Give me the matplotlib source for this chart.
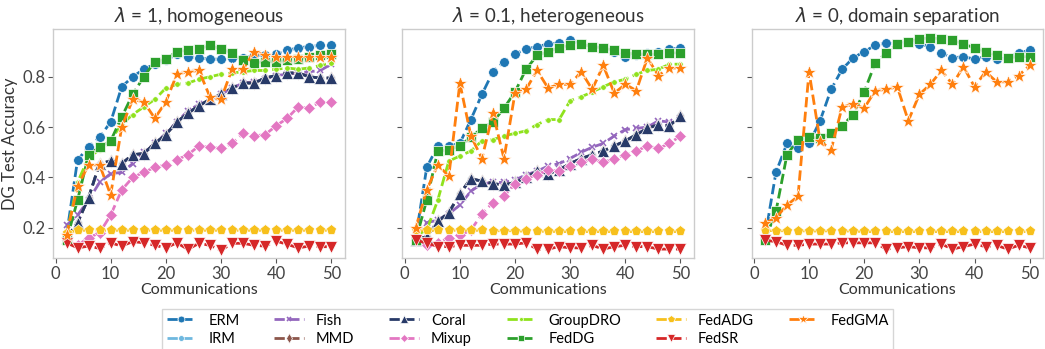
import matplotlib

matplotlib.use("Agg")
import matplotlib.pyplot as plt

plt.rcParams["font.family"] = ["Lato", "DejaVu Sans"]

rounds = list(range(2, 51, 2))

# --- lambda = 1, homogeneous ---
erm_homo = [0.17, 0.47, 0.52, 0.56, 0.62, 0.76, 0.80, 0.83, 0.85, 0.865, 0.89, 0.88, 0.875,
            0.87, 0.87, 0.875, 0.875, 0.885, 0.885, 0.89, 0.905, 0.915, 0.92, 0.925, 0.925]
fish_homo = [0.21, 0.25, 0.31, 0.38, 0.415, 0.42, 0.455, 0.50, 0.535, 0.575, 0.62, 0.665, 0.69,
             0.71, 0.73, 0.755, 0.775, 0.78, 0.79, 0.805, 0.81, 0.815, 0.82, 0.825, 0.85]
coral_homo = [0.16, 0.22, 0.32, 0.455, 0.465, 0.455, 0.49, 0.495, 0.535, 0.57, 0.62, 0.655, 0.685,
              0.71, 0.73, 0.755, 0.775, 0.775, 0.795, 0.805, 0.815, 0.815, 0.80, 0.795, 0.795]
irm_homo = coral_homo  # hidden under Coral
mmd_homo = coral_homo  # hidden under Coral
mixup_homo = [0.15, 0.13, 0.16, 0.18, 0.25, 0.35, 0.40, 0.42, 0.44, 0.45, 0.47, 0.49, 0.525,
              0.52, 0.515, 0.535, 0.575, 0.565, 0.57, 0.605, 0.635, 0.68, 0.675, 0.70, 0.70]
groupdro_homo = [0.17, 0.38, 0.48, 0.51, 0.55, 0.61, 0.65, 0.68, 0.71, 0.755, 0.77, 0.775, 0.79,
                 0.80, 0.81, 0.815, 0.82, 0.825, 0.825, 0.83, 0.835, 0.83, 0.835, 0.845, 0.855]
feddg_homo = [0.15, 0.31, 0.49, 0.52, 0.545, 0.64, 0.73, 0.80, 0.86, 0.87, 0.90, 0.905, 0.91,
              0.925, 0.91, 0.895, 0.865, 0.855, 0.86, 0.86, 0.865, 0.87, 0.88, 0.885, 0.89]
fedadg_homo = [0.18, 0.19, 0.19, 0.19, 0.19, 0.19, 0.19, 0.19, 0.19, 0.19, 0.19, 0.19, 0.19,
               0.19, 0.19, 0.19, 0.19, 0.19, 0.19, 0.19, 0.19, 0.19, 0.19, 0.19, 0.19]
fedsr_homo = [0.14, 0.12, 0.127, 0.118, 0.14, 0.127, 0.145, 0.14, 0.13, 0.12, 0.14, 0.114, 0.138,
              0.13, 0.11, 0.138, 0.138, 0.13, 0.127, 0.147, 0.134, 0.12, 0.127, 0.125, 0.124]
fedgma_homo = [0.17, 0.365, 0.45, 0.45, 0.33, 0.60, 0.71, 0.70, 0.635, 0.70, 0.81, 0.82, 0.825,
               0.72, 0.71, 0.83, 0.83, 0.90, 0.885, 0.88, 0.88, 0.88, 0.88, 0.88, 0.88]

# --- lambda = 0.1, heterogeneous ---
erm_hetero = [0.16, 0.44, 0.525, 0.525, 0.535, 0.63, 0.73, 0.82, 0.86, 0.89, 0.91, 0.92, 0.93,
              0.935, 0.945, 0.93, 0.92, 0.915, 0.90, 0.88, 0.885, 0.895, 0.90, 0.91, 0.915]
fish_hetero = [0.17, 0.22, 0.23, 0.255, 0.29, 0.345, 0.375, 0.38, 0.38, 0.39, 0.41, 0.425, 0.445,
               0.455, 0.475, 0.50, 0.52, 0.535, 0.565, 0.59, 0.595, 0.60, 0.625, 0.62, 0.635]
coral_hetero = [0.15, 0.165, 0.225, 0.26, 0.335, 0.395, 0.385, 0.375, 0.37, 0.38, 0.40, 0.425, 0.415,
                0.43, 0.455, 0.475, 0.49, 0.505, 0.525, 0.545, 0.57, 0.595, 0.61, 0.605, 0.645]
irm_hetero = coral_hetero
mmd_hetero = coral_hetero
mixup_hetero = [0.15, 0.13, 0.14, 0.16, 0.17, 0.19, 0.255, 0.30, 0.325, 0.375, 0.395, 0.41, 0.43,
                0.425, 0.445, 0.46, 0.475, 0.46, 0.475, 0.49, 0.505, 0.525, 0.515, 0.535, 0.565]
groupdro_hetero = [0.17, 0.19, 0.31, 0.465, 0.485, 0.505, 0.545, 0.55, 0.565, 0.575, 0.585, 0.61, 0.63,
                   0.63, 0.705, 0.72, 0.74, 0.76, 0.78, 0.79, 0.81, 0.825, 0.83, 0.85, 0.85]
feddg_hetero = [0.15, 0.31, 0.505, 0.51, 0.525, 0.56, 0.595, 0.62, 0.675, 0.74, 0.83, 0.885, 0.90,
                0.915, 0.925, 0.93, 0.92, 0.915, 0.905, 0.895, 0.89, 0.89, 0.89, 0.895, 0.895]
fedadg_hetero = [0.19, 0.19, 0.19, 0.19, 0.19, 0.19, 0.19, 0.188, 0.188, 0.188, 0.186, 0.186, 0.186,
                 0.185, 0.185, 0.185, 0.185, 0.185, 0.185, 0.185, 0.185, 0.185, 0.185, 0.185, 0.185]
fedsr_hetero = [0.15, 0.14, 0.125, 0.125, 0.13, 0.13, 0.13, 0.135, 0.135, 0.135, 0.14, 0.115, 0.115,
                0.125, 0.12, 0.12, 0.13, 0.115, 0.125, 0.13, 0.125, 0.125, 0.115, 0.115, 0.115]
fedgma_hetero = [0.20, 0.35, 0.45, 0.405, 0.775, 0.565, 0.475, 0.655, 0.475, 0.735, 0.75, 0.825, 0.755,
                 0.77, 0.77, 0.82, 0.75, 0.845, 0.735, 0.77, 0.745, 0.875, 0.805, 0.835, 0.835]

# --- lambda = 0, domain separation (only client-level methods apply) ---
erm_sep = [0.16, 0.42, 0.535, 0.515, 0.535, 0.625, 0.75, 0.83, 0.875, 0.90, 0.925, 0.935, 0.93,
           0.94, 0.93, 0.92, 0.895, 0.875, 0.88, 0.87, 0.88, 0.87, 0.875, 0.895, 0.905]
feddg_sep = [0.15, 0.265, 0.49, 0.55, 0.56, 0.555, 0.575, 0.605, 0.65, 0.74, 0.855, 0.895, 0.93,
             0.94, 0.95, 0.955, 0.95, 0.945, 0.93, 0.915, 0.90, 0.885, 0.875, 0.88, 0.88]
fedadg_sep = [0.19, 0.188, 0.188, 0.188, 0.187, 0.187, 0.188, 0.187, 0.187, 0.185, 0.185, 0.185, 0.185,
              0.185, 0.185, 0.185, 0.185, 0.185, 0.185, 0.185, 0.185, 0.185, 0.185, 0.185, 0.185]
fedsr_sep = [0.15, 0.145, 0.13, 0.13, 0.135, 0.135, 0.135, 0.14, 0.14, 0.14, 0.14, 0.115, 0.12,
             0.125, 0.12, 0.12, 0.135, 0.115, 0.125, 0.135, 0.125, 0.13, 0.115, 0.13, 0.12]
fedgma_sep = [0.218, 0.24, 0.29, 0.325, 0.82, 0.545, 0.51, 0.68, 0.69, 0.675, 0.745, 0.75, 0.76,
              0.625, 0.73, 0.77, 0.825, 0.77, 0.84, 0.76, 0.82, 0.78, 0.78, 0.805, 0.845]

methods = ["ERM", "IRM", "Fish", "MMD", "Coral", "Mixup",
           "GroupDRO", "FedDG", "FedADG", "FedSR", "FedGMA"]
styles = {
    "ERM": ("#1f77b4", "o", 7),
    "IRM": ("#6fb8df", "o", 6),
    "Fish": ("#9467bd", "x", 5),
    "MMD": ("#8c564b", "d", 7),
    "Coral": ("#283a68", "^", 8),
    "Mixup": ("#e377c2", "D", 6),
    "GroupDRO": ("#8fe21d", ".", 8),
    "FedDG": ("#2ca02c", "s", 7),
    "FedADG": ("#f7c01c", "p", 8),
    "FedSR": ("#d62728", "v", 8),
    "FedGMA": ("#ff7f0e", "*", 10),
}

panels = [
    (r"$\lambda$ = 1, homogeneous", {
        "ERM": erm_homo, "IRM": irm_homo, "Fish": fish_homo, "MMD": mmd_homo,
        "Coral": coral_homo, "Mixup": mixup_homo, "GroupDRO": groupdro_homo,
        "FedDG": feddg_homo, "FedADG": fedadg_homo, "FedSR": fedsr_homo, "FedGMA": fedgma_homo}),
    (r"$\lambda$ = 0.1, heterogeneous", {
        "ERM": erm_hetero, "IRM": irm_hetero, "Fish": fish_hetero, "MMD": mmd_hetero,
        "Coral": coral_hetero, "Mixup": mixup_hetero, "GroupDRO": groupdro_hetero,
        "FedDG": feddg_hetero, "FedADG": fedadg_hetero, "FedSR": fedsr_hetero,
        "FedGMA": fedgma_hetero}),
    (r"$\lambda$ = 0, domain separation", {
        "ERM": erm_sep, "FedDG": feddg_sep, "FedADG": fedadg_sep,
        "FedSR": fedsr_sep, "FedGMA": fedgma_sep}),
]

fig, axes = plt.subplots(1, 3, figsize=(10.45, 3.49), dpi=100, sharey=True)
fig.subplots_adjust(left=0.051, right=0.998, top=0.917, bottom=0.261, wspace=0.199)

handles = {}
for ax, (title, series) in zip(axes, panels):
    for name in methods:
        if name not in series:
            continue
        color, marker, ms = styles[name]
        (line,) = ax.plot(rounds, series[name], linestyle="--", linewidth=2, color=color,
                          marker=marker, markersize=ms, markeredgecolor="white",
                          markeredgewidth=0.5 if marker != "x" else 1.2, label=name)
        if marker == "x":
            line.set_markeredgecolor(color)
        handles.setdefault(name, line)
    ax.set_title(title, fontsize=13.5, color="#333333", pad=5)
    ax.set_xlabel("Communications", fontsize=11.5, color="#333333", labelpad=1)
    ax.set_xticks([0, 10, 20, 30, 40, 50])
    ax.set_ylim(0.08, 0.99)
    ax.set_yticks([0.2, 0.4, 0.6, 0.8])
    ax.tick_params(labelsize=12, colors="#555555", length=3.5, width=0.8, pad=2,
                   labelcolor="#444444")
    for sp in ax.spines.values():
        sp.set_color("#cccccc")
        sp.set_linewidth(1.0)

axes[0].set_ylabel("DG Test Accuracy", fontsize=12, color="#333333", labelpad=3)

fig.legend([handles[m] for m in methods], methods, ncol=6, loc="upper center",
           bbox_to_anchor=(0.505, 0.135), fontsize=10.5, frameon=True, edgecolor="#cccccc",
           fancybox=False, handlelength=2.0, columnspacing=2.4, borderpad=0.3,
           labelspacing=0.3, handletextpad=0.85, markerscale=0.7)

fig.savefig("out.png", dpi=100)
